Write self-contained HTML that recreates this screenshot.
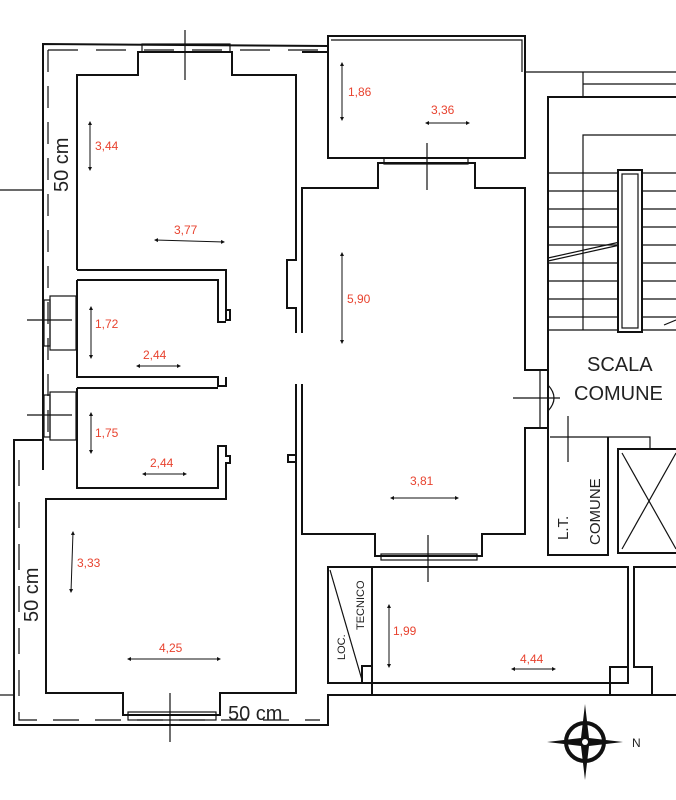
<!DOCTYPE html>
<html><head><meta charset="utf-8"><style>
html,body{margin:0;padding:0;background:#fff;width:676px;height:800px;overflow:hidden}
svg{display:block}
.w{fill:none;stroke:#111;stroke-width:2}
.t{fill:none;stroke:#111;stroke-width:1.2}
.r{fill:#e8432f;font-family:"Liberation Sans",sans-serif;font-size:12px}
.k{fill:#222;font-family:"Liberation Sans",sans-serif}
</style></head><body>
<svg width="676" height="800" viewBox="0 0 676 800" xmlns="http://www.w3.org/2000/svg">
<defs><marker id="a" markerWidth="6" markerHeight="6" refX="3" refY="3" orient="auto-start-reverse"><path d="M0,1 L4,3 L0,5z" fill="#111"/></marker></defs>
<!-- outer walls left/top -->
<polyline class="w" points="328,46 43,44 43,470"/>
<polyline class="t" points="48,50 48,440" stroke-dasharray="22,14"/>
<polyline class="t" points="48,50 320,50" stroke-dasharray="30,18"/>
<polyline class="w" points="43,440 14,440 14,725 328,725 328,695 676,695"/>
<polyline class="t" points="19,460 19,720 320,720" stroke-dasharray="26,16"/>
<line class="t" x1="0" y1="190" x2="43" y2="190"/>
<line class="t" x1="0" y1="695" x2="14" y2="695"/>
<!-- room 1 -->
<polyline class="w" points="77,270 77,75 138,75 138,52 232,52 232,75 296,75 296,260 287,260 287,308 296,308 296,333"/>
<rect class="t" x="142" y="44" width="88" height="8"/>
<line class="t" x1="185" y1="30" x2="185" y2="80"/>
<polyline class="w" points="77,270 226,270 226,320 230,320 230,310 226,310"/>
<!-- room 2 -->
<polyline class="w" points="77,280 218,280 218,322 226,322"/>
<polyline class="w" points="77,280 77,377 218,377 218,386 226,386 226,377"/>
<rect class="t" x="50" y="296" width="26" height="54"/>
<rect class="t" x="44" y="300" width="6" height="46"/>
<line class="t" x1="27" y1="320" x2="72" y2="320"/>
<!-- room 3 -->
<polyline class="w" points="77,388 218,388"/>
<polyline class="w" points="77,388 77,488 218,488 218,446 226,446 226,456 230,456 230,463 226,463 226,499 46,499 46,693 123,693 123,715 220,715 220,693 296,693 296,455 288,455 288,462 296,462 296,384"/>
<rect class="t" x="50" y="392" width="26" height="48"/>
<rect class="t" x="44" y="395" width="6" height="42"/>
<line class="t" x1="27" y1="415" x2="72" y2="415"/>
<rect class="t" x="128" y="712" width="88" height="8"/>
<line class="t" x1="170" y1="693" x2="170" y2="742"/>
<!-- balcony -->
<polyline class="w" points="302,52 328,52 328,158 525,158 525,36 328,36 328,52"/>
<polyline class="t" points="331,40 522,40 522,72"/>
<line class="t" x1="525" y1="72" x2="676" y2="72"/>
<line class="t" x1="583" y1="84" x2="676" y2="84"/>
<line class="t" x1="583" y1="72" x2="583" y2="97"/>
<!-- living -->
<polyline class="w" points="302,333 302,188 378,188 378,163 475,163 475,188 525,188 525,370 548,370 548,97 676,97"/>
<rect class="t" x="384" y="158" width="84" height="6"/>
<line class="t" x1="427" y1="143" x2="427" y2="190"/>
<polyline class="w" points="302,384 302,534 375,534 375,556 482,556 482,534 525,534 525,428 548,428 548,370"/>
<rect class="t" x="381" y="554" width="96" height="6"/>
<line class="t" x1="428" y1="535" x2="428" y2="582"/>
<line class="t" x1="540" y1="370" x2="540" y2="428"/>
<line class="t" x1="513" y1="398" x2="560" y2="398"/>
<path class="t" d="M548,385 Q560,398 548,411"/>
<!-- stairs -->
<polyline class="t" points="583,330 583,135 676,135"/>
<g class="t">
<line x1="548" y1="173" x2="676" y2="173"/><line x1="548" y1="191" x2="676" y2="191"/>
<line x1="548" y1="209" x2="676" y2="209"/><line x1="548" y1="227" x2="676" y2="227"/>
<line x1="548" y1="245" x2="676" y2="245"/><line x1="548" y1="263" x2="676" y2="263"/>
<line x1="548" y1="281" x2="676" y2="281"/><line x1="548" y1="299" x2="676" y2="299"/>
<line x1="548" y1="317" x2="676" y2="317"/><line x1="548" y1="330" x2="676" y2="330"/>
<line x1="548" y1="258" x2="620" y2="242"/><line x1="548" y1="261" x2="620" y2="245"/>
<line x1="664" y1="325" x2="676" y2="320"/>
</g>
<rect x="618" y="170" width="24" height="162" fill="#fff" stroke="#111" stroke-width="2"/>
<rect class="t" x="622" y="174" width="16" height="154"/>
<text class="k" x="587" y="371" font-size="20">SCALA</text>
<text class="k" x="574" y="400" font-size="20">COMUNE</text>
<!-- LT comune -->
<polyline class="w" points="548,428 548,555 608,555 608,437"/>
<polyline class="t" points="550,437 650,437 650,448"/>
<line class="t" x1="568" y1="416" x2="568" y2="462"/>
<rect x="618" y="449" width="60" height="104" fill="none" stroke="#111" stroke-width="2"/>
<line class="t" x1="622" y1="453" x2="676" y2="549"/><line class="t" x1="622" y1="549" x2="676" y2="453"/>
<text class="k" font-size="15" transform="translate(568,540) rotate(-90)">L.T.</text>
<text class="k" font-size="15" transform="translate(600,545) rotate(-90)">COMUNE</text>
<!-- lower right -->
<rect class="w" x="328" y="567" width="300" height="116"/>
<polyline class="w" points="372,567 372,695"/>
<polyline class="w" points="372,683 610,683 610,695"/>
<polyline class="w" points="610,683 610,667 628,667"/>
<polyline class="w" points="676,567 634,567 634,667 652,667 652,695"/>
<line class="t" x1="330" y1="570" x2="362" y2="680"/>
<polyline class="w" points="362,683 362,666 372,666"/>
<text class="k" font-size="11" transform="translate(345,660) rotate(-90)">LOC.</text>
<text class="k" font-size="11" transform="translate(364,630) rotate(-90)">TECNICO</text>
<!-- dimension arrows -->
<g stroke="#111" stroke-width="1" marker-start="url(#a)" marker-end="url(#a)">
<line x1="90" y1="122" x2="90" y2="170"/><line x1="155" y1="240" x2="224" y2="242"/>
<line x1="91" y1="307" x2="91" y2="358"/><line x1="137" y1="366" x2="180" y2="366"/>
<line x1="91" y1="413" x2="91" y2="453"/><line x1="143" y1="474" x2="186" y2="474"/>
<line x1="73" y1="532" x2="71" y2="592"/><line x1="128" y1="659" x2="220" y2="659"/>
<line x1="342" y1="63" x2="342" y2="120"/><line x1="426" y1="123" x2="469" y2="123"/>
<line x1="342" y1="253" x2="342" y2="343"/><line x1="391" y1="498" x2="458" y2="498"/>
<line x1="389" y1="605" x2="389" y2="667"/><line x1="512" y1="669" x2="555" y2="669"/>
</g>
<text class="r" x="95" y="150">3,44</text><text class="r" x="174" y="234">3,77</text>
<text class="r" x="95" y="328">1,72</text><text class="r" x="143" y="359">2,44</text>
<text class="r" x="95" y="437">1,75</text><text class="r" x="150" y="467">2,44</text>
<text class="r" x="77" y="567">3,33</text><text class="r" x="159" y="652">4,25</text>
<text class="r" x="348" y="96">1,86</text><text class="r" x="431" y="114">3,36</text>
<text class="r" x="347" y="303">5,90</text><text class="r" x="410" y="485">3,81</text>
<text class="r" x="393" y="635">1,99</text><text class="r" x="520" y="663">4,44</text>
<text class="k" font-size="20" transform="translate(68,192) rotate(-90)">50 cm</text>
<text class="k" font-size="20" transform="translate(38,622) rotate(-90)">50 cm</text>
<text class="k" font-size="20" x="228" y="720">50 cm</text>
<!-- compass -->
<g transform="translate(585,742)">
<circle r="19" fill="none" stroke="#111" stroke-width="4"/>
<path d="M0,-38 L4,-4 L38,0 L4,4 L0,38 L-4,4 L-38,0 L-4,-4z" fill="#111"/>
<circle r="3" fill="#fff"/>
</g>
<text class="k" font-size="12" x="632" y="747">N</text>
</svg>
</body></html>
